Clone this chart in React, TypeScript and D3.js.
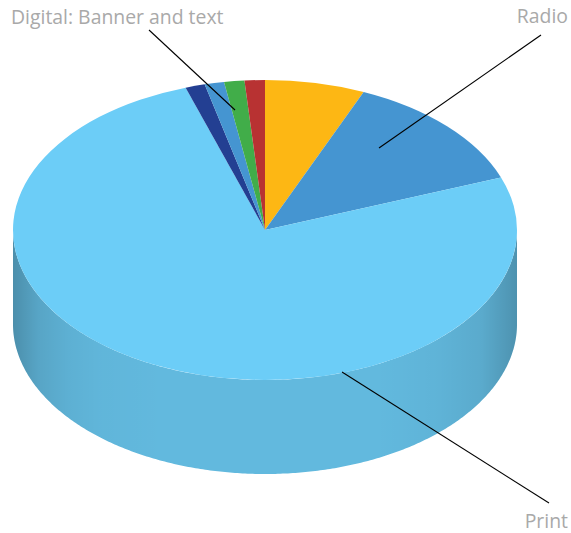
import { useEffect, useRef } from "react";
import * as d3 from "d3";

const categories = ["Digital: Search", "Radio", "Print", "Digital: Video", "Digital: Banner and text", "Digital: Social", "Other"];
const shares = [6.4, 12.9, 75.6, 1.25, 1.25, 1.3, 1.3];
const colors = ["#fdb714", "#4595d1", "#6ccdf7", "#233f92", "#4595d1", "#41ad49", "#b83232"];
const sideColors = ["#d9a012", "#3c80b4", "#62b9de", "#1f3780", "#3c80b4", "#389540", "#9e2b2b"];

const labels = ["Digital: Banner and text", "Radio", "Print"];

const width = 571;
const height = 533;
const cx = 265;
const cy = 230;
const rx = 252;
const ry = 150;
const depth = 94;

const callouts = [
    { text: labels[0], x: 11, y: 24, anchor: "start", from: [149, 30], to: [235, 110] },
    { text: labels[1], x: 568, y: 23, anchor: "end", from: [541, 35], to: [379, 148] },
    { text: labels[2], x: 568, y: 528, anchor: "end", from: [549, 503], to: [342, 372] },
];

// shading on the wall: [offset, darkness]
const wallShade: [number, number][] = [
    [0, 0.23], [0.05, 0.11], [0.11, 0.05], [0.17, 0.02], [0.3, 0], [0.72, 0], [0.84, 0.03], [0.93, 0.08], [1, 0.21],
];

export default function App() {
    const svgRef = useRef<SVGSVGElement>(null);

    useEffect(() => {
        if (!svgRef.current) return;

        const svg = d3.select(svgRef.current);
        svg.selectAll("*").remove();

        const pie = d3.pie<number>().value((d) => d).sort(null);
        const arcs = pie(shares);

        const grad = svg.append("defs").append("linearGradient")
            .attr("id", "wall")
            .attr("gradientUnits", "userSpaceOnUse")
            .attr("x1", cx - rx).attr("x2", cx + rx)
            .attr("y1", 0).attr("y2", 0);
        grad.selectAll("stop").data(wallShade).enter().append("stop")
            .attr("offset", (d) => d[0])
            .attr("stop-color", "#000")
            .attr("stop-opacity", (d) => d[1]);

        const px = (a: number) => cx + rx * Math.sin(a);
        const py = (a: number) => cy - ry * Math.cos(a);

        // front wall only shows between 90 and 270 degrees
        const wall = d3.area<number>()
            .x((a) => px(a))
            .y0((a) => py(a))
            .y1((a) => py(a) + depth);

        arcs.forEach((d, i) => {
            const a0 = Math.max(d.startAngle, Math.PI / 2);
            const a1 = Math.min(d.endAngle, (3 * Math.PI) / 2);
            if (a1 <= a0) return;
            const pts = d3.range(a0, a1, 0.01).concat([a1]);
            svg.append("path").attr("d", wall(pts)).attr("fill", sideColors[i]);
            svg.append("path").attr("d", wall(pts)).attr("fill", "url(#wall)");
        });

        const arc = d3.arc<d3.PieArcDatum<number>>().innerRadius(0).outerRadius(rx);
        svg.append("g")
            .attr("transform", `translate(${cx},${cy}) scale(1,${ry / rx})`)
            .selectAll("path")
            .data(arcs)
            .enter()
            .append("path")
            .attr("d", arc)
            .attr("fill", (_, i) => colors[i]);

        svg.selectAll("line.leader")
            .data(callouts)
            .enter()
            .append("line")
            .attr("class", "leader")
            .attr("x1", (d) => d.from[0]).attr("y1", (d) => d.from[1])
            .attr("x2", (d) => d.to[0]).attr("y2", (d) => d.to[1])
            .attr("stroke", "#000")
            .attr("stroke-width", 1.1);

        svg.selectAll("text.label")
            .data(callouts)
            .enter()
            .append("text")
            .attr("class", "label")
            .attr("x", (d) => d.x).attr("y", (d) => d.y)
            .attr("text-anchor", (d) => d.anchor)
            .attr("fill", "#a9a9a9")
            .style("font-family", "'Open Sans', sans-serif")
            .style("font-size", "19.4px")
            .text((d) => d.text);
    }, []);

    return (
        <svg
            ref={svgRef}
            width={width}
            height={height}
            viewBox={`0 0 ${width} ${height}`}
            style={{ position: "absolute", left: 0, top: 0 }}
        />
    );
}
